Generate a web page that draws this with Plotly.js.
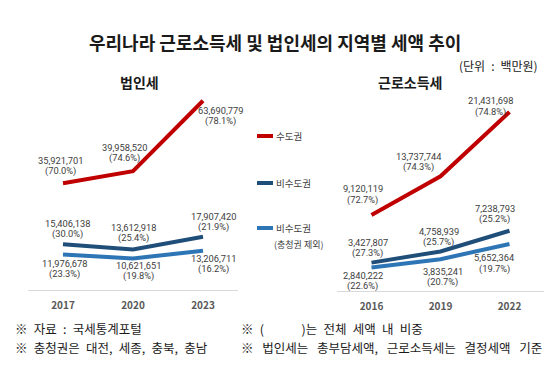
<!DOCTYPE html>
<html><head><meta charset="utf-8">
<script src="https://cdn.plot.ly/plotly-3.0.1.min.js"></script>
<style>html,body{margin:0;padding:0;background:#fff}#chart{width:556px;height:383px}</style>
</head><body><div id="chart"></div>
<script>
// ---- data ----
const corpYears = ['2017', '2020', '2023'];
const corpCapital = [35921701, 39958520, 63690779];
const corpNonCapital = [15406138, 13612918, 17907420];
const corpNonCapitalExChung = [11976678, 10621651, 13206711];
const corpCapitalPct = ['70.0%', '74.6%', '78.1%'];
const corpNonCapitalPct = ['30.0%', '25.4%', '21.9%'];
const corpNonCapitalExChungPct = ['23.3%', '19.8%', '16.2%'];

const wageYears = ['2016', '2019', '2022'];
const wageCapital = [9120119, 13737744, 21431698];
const wageNonCapital = [3427807, 4758939, 7238793];
const wageNonCapitalExChung = [2840222, 3835241, 5652364];
const wageCapitalPct = ['72.7%', '74.3%', '74.8%'];
const wageNonCapitalPct = ['27.3%', '25.7%', '25.2%'];
const wageNonCapitalExChungPct = ['22.6%', '20.7%', '19.7%'];

const seriesNames = ['수도권', '비수도권', '비수도권'];

// ---- styling ----
const FONT = '"Noto Sans CJK KR", "Noto Sans", sans-serif';
const LABEL_FONT = 'Roboto, "Open Sans", sans-serif';
const colors = ['#C00000', '#1F4E79', '#2E75B6'];
const LW = 4;

// label offsets (px) per series/point : [xshift, yshift]
const corpOffsets = [
  [[-3, 18], [-9, 19], [17, -15]],
  [[4, 16], [0, 17], [10, 15]],
  [[1, -14], [5, -12], [10, -13]]
];
const wageOffsets = [
  [[-9, 21], [-22, 15], [-19, 6]],
  [[-4, 15], [-2, 15], [-15, 17]],
  [[-9, -13], [2, -17], [-15, -19]]
];

function fmt(v) { return v.toLocaleString('en-US'); }

const traces = [];
const annotations = [];

function addGroup(years, seriesVals, seriesPct, offsets, xa, ya) {
  seriesVals.forEach((vals, i) => {
    traces.push({
      type: 'scatter', mode: 'lines', x: years, y: vals,
      xaxis: xa, yaxis: ya, name: seriesNames[i], showlegend: false,
      line: {color: colors[i], width: LW}, cliponaxis: false, hoverinfo: 'skip'
    });
    vals.forEach((v, j) => {
      const lf = {family: LABEL_FONT, size: 9.3, color: '#404040'};
      annotations.push({
        x: j, y: v, xref: xa, yref: ya, showarrow: false,
        text: fmt(v),
        xshift: offsets[i][j][0], yshift: offsets[i][j][1] + 5.2,
        font: lf, xanchor: 'center', yanchor: 'middle'
      });
      annotations.push({
        x: j, y: v, xref: xa, yref: ya, showarrow: false,
        text: '(' + seriesPct[i][j] + ')',
        xshift: offsets[i][j][0], yshift: offsets[i][j][1] - 5.6,
        font: lf, xanchor: 'center', yanchor: 'middle'
      });
    });
  });
}

addGroup(corpYears, [corpCapital, corpNonCapital, corpNonCapitalExChung],
  [corpCapitalPct, corpNonCapitalPct, corpNonCapitalExChungPct], corpOffsets, 'x', 'y');
addGroup(wageYears, [wageCapital, wageNonCapital, wageNonCapitalExChung],
  [wageCapitalPct, wageNonCapitalPct, wageNonCapitalExChungPct], wageOffsets, 'x2', 'y2');

const W = 556, H = 383;
const px = v => v / W;
const py = v => 1 - v / H;

function txt(text, x, y, size, opts = {}) {
  annotations.push(Object.assign({
    text, x: px(x), y: py(y), xref: 'paper', yref: 'paper', showarrow: false,
    xanchor: 'center', yanchor: 'middle',
    font: {family: FONT, size, color: '#1a1a1a'}
  }, opts));
}

const sp = '\u2002';
const fn = (s, sep = sp) => s.split(' ').join(sep);

// titles
txt('<b>우리나라 근로소득세 및 법인세의 지역별 세액 추이</b>', 275, 42, 18);
txt(fn('(단위 : 백만원)'), 540, 66, 12, {xanchor: 'right'});
txt('<b>법인세</b>', 139.5, 82, 14);
txt('<b>근로소득세</b>', 410, 82, 14);

// legend
const shapes = [];
const legendY = [136, 183, 228];
legendY.forEach((y, i) => {
  shapes.push({type: 'line', xref: 'paper', yref: 'paper', x0: px(257), x1: px(273), y0: py(y), y1: py(y),
    line: {color: colors[i], width: LW}});
  txt(seriesNames[i], 274, y, 9.5, {xanchor: 'left', font: {family: FONT, size: 9.5, color: '#404040'}});
});
txt('(충청권 제외)', 272, 244, 9, {xanchor: 'left', font: {family: FONT, size: 9, color: '#404040'}});

// footnotes
const FS = 12.5;
const fnFont = {family: FONT, size: FS, color: '#1a1a1a'};
txt(fn('※ 자료 : 국세통계포털'), 13, 328, FS, {xanchor: 'left', font: fnFont});
txt(fn('※ 충청권은 대전, 세종, 충북, 충남'), 13, 347, FS, {xanchor: 'left', font: fnFont});
txt('※' + sp + '(' + sp + sp + sp + sp + sp + sp + ')는' + sp + fn('전체 세액 내 비중'), 239, 328, FS, {xanchor: 'left', font: fnFont});
txt(fn('※ 법인세는 총부담세액, 근로소득세는 결정세액 기준', sp + '\u2009'), 239, 347, FS, {xanchor: 'left', font: fnFont});

const xCommon = {
  type: 'category', range: [-0.5, 2.5], showgrid: false, zeroline: false,
  showline: true, linecolor: '#D9D9D9', linewidth: 1, ticks: '',
  tickfont: {family: FONT, size: 10, color: '#595959'}, ticklabelstandoff: 6, fixedrange: true
};
const yCommon = {showgrid: false, zeroline: false, showline: false, showticklabels: false, ticks: '', fixedrange: true};

const layout = {
  width: W, height: H, margin: {l: 0, r: 0, t: 0, b: 0},
  paper_bgcolor: '#fff', plot_bgcolor: 'rgba(0,0,0,0)', showlegend: false,
  xaxis: Object.assign({}, xCommon, {domain: [px(28), px(238)], anchor: 'y',
    tickvals: corpYears, ticktext: corpYears.map(y => '<b>' + y + '</b>')}),
  yaxis: Object.assign({}, yCommon, {domain: [py(290), py(90)], range: [0, 67.3e6], anchor: 'x'}),
  xaxis2: Object.assign({}, xCommon, {domain: [px(337), px(544)], anchor: 'y2',
    tickvals: wageYears, ticktext: wageYears.map(y => '<b>' + y + '</b>')}),
  yaxis2: Object.assign({}, yCommon, {domain: [py(291.3), py(90)], range: [0, 24.05e6], anchor: 'x2'}),
  annotations, shapes
};

Plotly.newPlot('chart', traces, layout, {staticPlot: true, displayModeBar: false});
</script>
</body></html>
